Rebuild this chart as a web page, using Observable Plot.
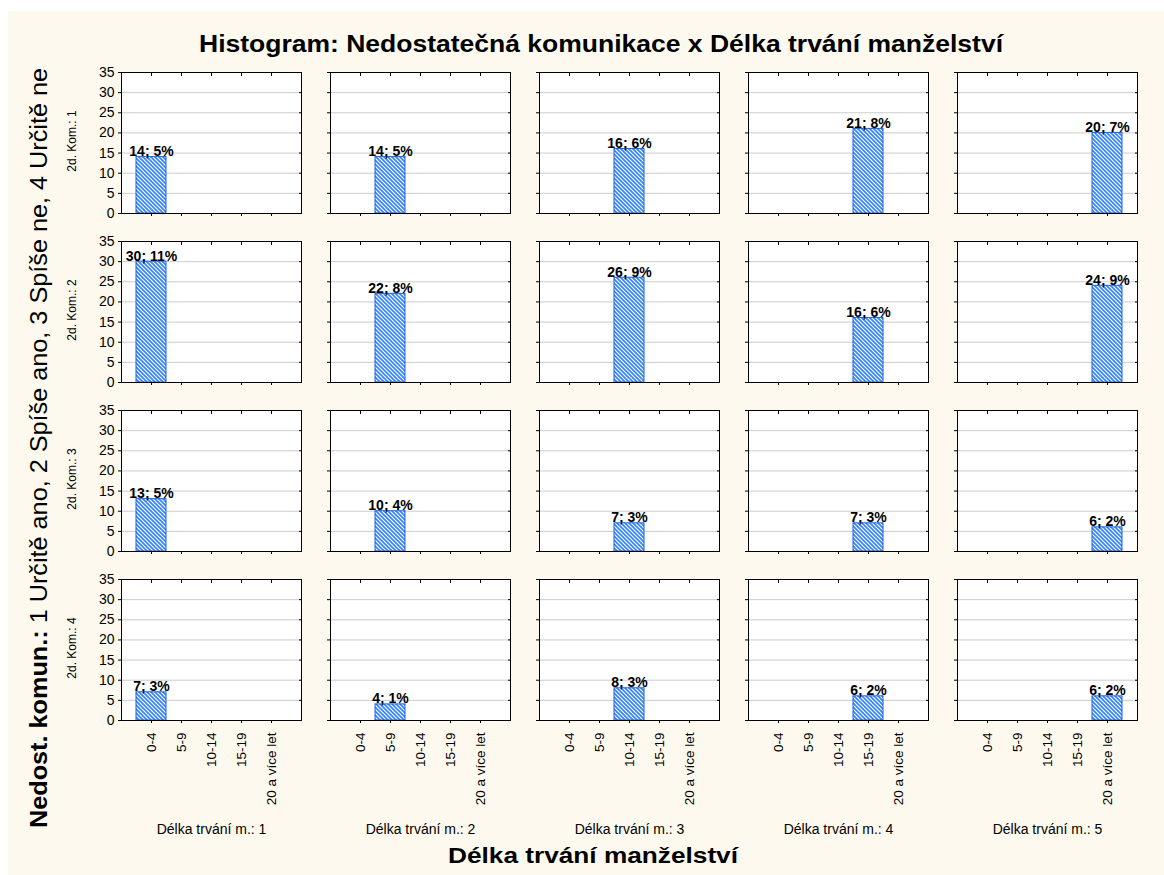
<!DOCTYPE html>
<html>
<head>
<meta charset="utf-8">
<script src="https://cdn.jsdelivr.net/npm/d3@7"></script>
<script src="https://cdn.jsdelivr.net/npm/@observablehq/plot@0.6"></script>
<style>
html, body { margin: 0; padding: 0; background: #ffffff; width: 1164px; height: 875px; overflow: hidden; }
#bg { position: absolute; left: 8px; top: 11px; right: 0; bottom: 0; background: #fdf9ee; }
#chart { position: absolute; left: 0; top: 0; }
</style>
</head>
<body>
<div id="bg"></div>
<div id="chart"></div>
<script>
// ---- data ----
const durationLabels = ["0-4", "5-9", "10-14", "15-19", "20 a více let"];
const durLevels = [1, 2, 3, 4, 5];          // Délka trvání m.: 1..5 (columns)
const komLevels = [1, 2, 3, 4];             // 2d. Kom.: 1..4 (rows)
const countsRow1 = [14, 14, 16, 21, 20];
const countsRow2 = [30, 22, 26, 16, 24];
const countsRow3 = [13, 10, 7, 7, 6];
const countsRow4 = [7, 4, 8, 6, 6];
const pctRow1 = [5, 5, 6, 8, 7];
const pctRow2 = [11, 8, 9, 6, 9];
const pctRow3 = [5, 4, 3, 3, 2];
const pctRow4 = [3, 1, 3, 2, 2];
const yTicks = [0, 5, 10, 15, 20, 25, 30, 35];

const titleText = "Histogram: Nedostatečná komunikace x Délka trvání manželství";
const xTitle = "Délka trvání manželství";
const yTitleBold = "Nedost. komun.:";
const yTitleRest = " 1 Určitě ano, 2 Spíše ano, 3 Spíše ne, 4 Určitě ne";

const counts = [countsRow1, countsRow2, countsRow3, countsRow4];
const pcts = [pctRow1, pctRow2, pctRow3, pctRow4];
const table = [];
komLevels.forEach((k, ri) => {
  durLevels.forEach((d, ci) => {
    table.push({kom: k, dur: d, cat: durationLabels[ci], n: counts[ri][ci], pct: pcts[ri][ci]});
  });
});

const font = "'Liberation Sans', Arial, Helvetica, sans-serif";

const chart = Plot.plot({
  width: 1164,
  height: 875,
  marginLeft: 119,
  marginRight: 24,
  marginTop: 72,
  marginBottom: 155,
  style: {background: "transparent", fontFamily: font, color: "#000", overflow: "visible"},
  fx: {domain: durLevels, paddingInner: 0.138, paddingOuter: 0, axis: null},
  fy: {domain: komLevels, paddingInner: 0.1657, paddingOuter: 0, axis: null},
  x: {type: "band", domain: durationLabels, paddingInner: 0, paddingOuter: 0.5},
  y: {domain: [0, 35]},
  marks: [
    Plot.frame({fill: "white", stroke: null}),
    Plot.gridY(yTicks, {stroke: "#cccccc", strokeOpacity: 1, facetAnchor: null}),
    Plot.barY(table, {x: "cat", y: "n", fx: "dur", fy: "kom", fill: "url(#hatch)", stroke: "#1c5fe3", strokeWidth: 1}),
    Plot.text(table, {x: "cat", y: "n", fx: "dur", fy: "kom", text: d => `${d.n}; ${d.pct}%`,
      lineAnchor: "bottom", dy: -1, fontWeight: "bold", fontSize: 14, fill: "#000"}),
    Plot.axisY(yTicks, {anchor: "left", facetAnchor: null, tickSize: 3, text: null, label: null}),
    Plot.axisY(yTicks, {anchor: "left", facetAnchor: "left", tickSize: 0, tickPadding: 7, fontSize: 14, label: null}),
    Plot.axisY(yTicks, {anchor: "right", facetAnchor: null, tickSize: -3, text: null, label: null}),
    Plot.axisX({anchor: "bottom", facetAnchor: null, tickSize: 3, text: null, label: null}),
    Plot.axisX({anchor: "top", facetAnchor: null, tickSize: -3, text: null, label: null}),
    Plot.axisX({anchor: "bottom", facetAnchor: "bottom", tickSize: 0, tickPadding: 12, tickRotate: -90,
      textAnchor: "end", fontSize: 13.5, label: null}),
    Plot.frame({stroke: "#000"}),
    Plot.text(durLevels, {fx: d => d, fy: () => komLevels[komLevels.length - 1], frameAnchor: "bottom",
      lineAnchor: "top", dy: 104, text: d => `Délka trvání m.: ${d}`, fontSize: 14, fill: "#000"}),
    Plot.text(komLevels, {fy: d => d, fx: () => durLevels[0], frameAnchor: "left", rotate: -90,
      textAnchor: "middle", dx: -49, dy: -2, text: d => `2d. Kom.: ${d}`, fontSize: 12, fill: "#000"})
  ]
});

const ns = "http://www.w3.org/2000/svg";
const defs = document.createElementNS(ns, "defs");
defs.innerHTML = '<pattern id="hatch" patternUnits="userSpaceOnUse" width="4" height="4">' +
  '<rect width="4" height="4" fill="white"/>' +
  '<path d="M-1,-1L5,5M-1,3L1,5M3,-1L5,1" stroke="#2f82fb" stroke-width="1.6"/></pattern>';
chart.insertBefore(defs, chart.firstChild);

function addText(attrs, parts) {
  const t = document.createElementNS(ns, "text");
  for (const [k, v] of Object.entries(attrs)) t.setAttribute(k, v);
  t.setAttribute("font-family", font);
  t.setAttribute("fill", "#000");
  for (const [txt, weight] of parts) {
    const s = document.createElementNS(ns, "tspan");
    s.setAttribute("font-weight", weight);
    s.textContent = txt;
    t.appendChild(s);
  }
  chart.appendChild(t);
}

addText({x: 601, y: 52, "text-anchor": "middle", "font-size": 23, textLength: 804, lengthAdjust: "spacingAndGlyphs"},
  [[titleText, "bold"]]);
addText({x: 593, y: 863, "text-anchor": "middle", "font-size": 22, textLength: 290, lengthAdjust: "spacingAndGlyphs"},
  [[xTitle, "bold"]]);
addText({transform: "translate(47,448) rotate(-90)", "text-anchor": "middle", "font-size": 23, textLength: 760, lengthAdjust: "spacingAndGlyphs"},
  [[yTitleBold, "bold"], [yTitleRest, "normal"]]);

document.getElementById("chart").appendChild(chart);
</script>
</body>
</html>
